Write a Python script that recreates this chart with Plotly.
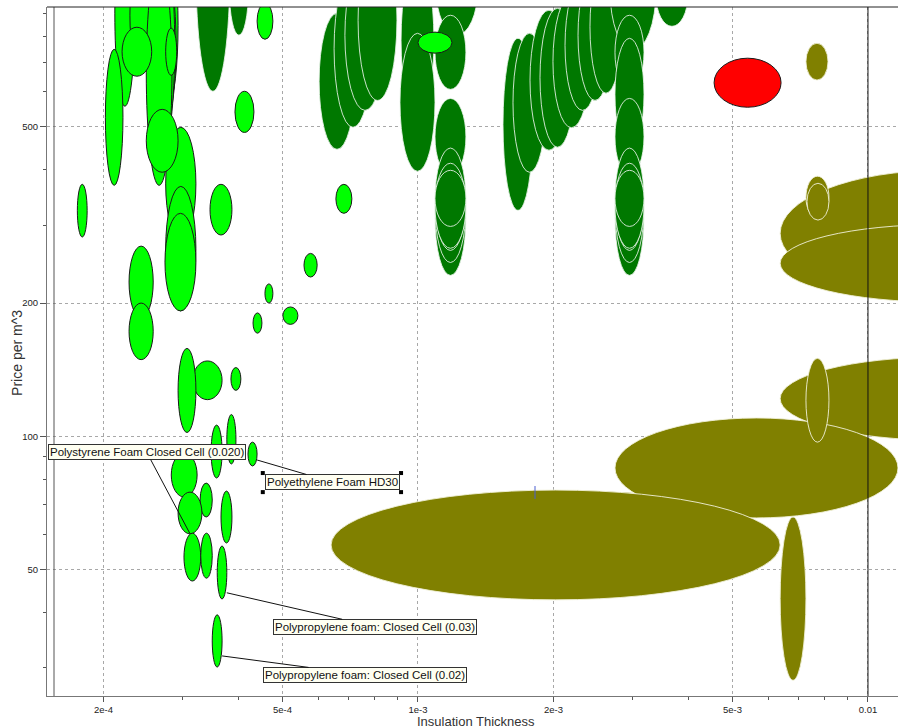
import math
import plotly.graph_objects as go

# ---- Material bubbles: thickness range (m) and price range (per m^3) ----
# Polymer foams (bright green)
foam_t_lo = [2.12e-4, 2.29e-4, 2.67e-4, 2.62e-4, 2.54e-4, 2.49e-4, 2.02e-4, 2.20e-4, 2.75e-4, 2.75e-4,
             2.49e-4, 2.75e-4, 2.74e-4, 4.39e-4, 3.92e-4, 1.75e-4, 3.45e-4, 2.28e-4, 2.28e-4, 4.57e-4,
             4.30e-4, 5.01e-4, 5.58e-4, 6.57e-4, 1.00e-3, 3.16e-4, 2.93e-4, 3.84e-4, 3.76e-4, 3.47e-4,
             4.19e-4, 2.83e-4, 3.28e-4, 2.93e-4, 3.65e-4, 3.02e-4, 3.29e-4, 3.58e-4, 3.49e-4]
foam_t_hi = [2.35e-4, 2.56e-4, 2.93e-4, 2.90e-4, 2.88e-4, 2.84e-4, 2.21e-4, 2.56e-4, 2.91e-4, 3.21e-4,
             2.93e-4, 3.21e-4, 3.21e-4, 4.76e-4, 4.32e-4, 1.84e-4, 3.86e-4, 2.58e-4, 2.58e-4, 4.76e-4,
             4.50e-4, 5.41e-4, 5.97e-4, 7.13e-4, 1.19e-3, 3.67e-4, 3.21e-4, 4.04e-4, 3.94e-4, 3.67e-4,
             4.39e-4, 3.23e-4, 3.49e-4, 3.31e-4, 3.86e-4, 3.29e-4, 3.49e-4, 3.76e-4, 3.67e-4]
foam_p_lo = [557, 672, 574, 518, 443, 369, 369, 651, 654, 277,
             395, 192, 192, 789, 486, 282, 285, 185, 149, 200,
             171, 179, 229, 319, 734, 121, 102, 127, 86.6, 80.5,
             85.7, 72.9, 65.7, 60.2, 57.4, 47.1, 47.8, 42.9, 30.1]
foam_p_hi = [1466, 1190, 1254, 1130, 1321, 1190, 749, 840, 836, 499,
             548, 367, 319, 952, 602, 371, 371, 269, 200, 221,
             190, 196, 259, 371, 819, 148, 158, 143, 112, 106,
             97.0, 91.7, 78.4, 74.8, 75.2, 60.4, 60.4, 56.5, 39.5]

# Dense foams / composites (dark green)
dense_t_lo = [3.21e-4, 3.81e-4, 6.03e-4, 6.51e-4, 6.88e-4, 7.36e-4, 9.17e-4, 9.12e-4,
              1.096e-3, 1.091e-3, 1.091e-3, 1.091e-3, 1.091e-3, 1.091e-3, 1.091e-3, 1.091e-3,
              1.545e-3, 1.626e-3, 1.774e-3, 1.867e-3, 1.995e-3, 2.122e-3, 2.268e-3, 2.411e-3,
              2.671e-3, 3.38e-3,
              2.740e-3, 2.740e-3, 2.740e-3, 2.740e-3, 2.740e-3, 2.740e-3, 2.740e-3, 2.740e-3]
dense_t_hi = [3.82e-4, 4.20e-4, 7.24e-4, 7.90e-4, 8.45e-4, 8.98e-4, 1.085e-3, 1.091e-3,
              1.359e-3, 1.278e-3, 1.278e-3, 1.278e-3, 1.278e-3, 1.278e-3, 1.278e-3, 1.278e-3,
              1.801e-3, 1.925e-3, 2.154e-3, 2.233e-3, 2.411e-3, 2.538e-3, 2.698e-3, 2.840e-3,
              3.38e-3, 3.98e-3,
              3.179e-3, 3.179e-3, 3.179e-3, 3.179e-3, 3.179e-3, 3.179e-3, 3.179e-3, 3.179e-3]
dense_p_lo = [602, 806, 445, 499, 545, 574, 518, 397,
              806, 608, 389, 231, 247, 263, 266, 298,
              324, 395, 443, 450, 498, 545, 574, 596,
              745, 844,
              608, 443, 389, 231, 247, 263, 266, 298]
dense_p_hi = [2121, 1287, 903, 1130, 1190, 1321, 1190, 814,
              1321, 894, 580, 421, 438, 448, 414, 399,
              793, 814, 918, 927, 992, 1072, 1130, 1190,
              1391, 1166,
              894, 793, 580, 421, 438, 448, 414, 399]

# Mineral wools / fibre boards (olive)
fibre_t_lo = [7.28e-3, 6.38e-3, 6.38e-3, 7.28e-3, 7.32e-3, 6.38e-3, 2.74e-3, 7.28e-3, 6.41e-4, 6.38e-3]
fibre_t_hi = [8.15e-3, 3.28e-2, 3.28e-2, 8.19e-3, 8.19e-3, 3.28e-2, 1.166e-2, 8.19e-3, 6.38e-3, 7.28e-3]
fibre_p_lo = [638, 207, 201, 311, 308, 98.0, 65.4, 97.0, 42.7, 28.1]
fibre_p_hi = [773, 399, 301, 387, 373, 151, 110, 150, 75.6, 65.7]

# Highlighted material (red)
red_t_lo = [4.55e-3]
red_t_hi = [6.41e-3]
red_p_lo = [554]
red_p_hi = [715]

# ---- Labelled materials ----
label_text = ["Polystyrene Foam Closed Cell (0.020)", "Polyethylene Foam HD30",
              "Polypropylene foam: Closed Cell (0.03)", "Polypropylene foam: Closed Cell (0.02)"]
label_t = [3.11e-4, 4.39e-4, 3.76e-4, 3.67e-4]
label_p = [60.4, 88.4, 44.3, 31.9]
label_dx = [-43, 75, 148, 143]
label_dy = [-81, 22, 34, 19]

# Axis ticks
x_ticks = [2e-4, 5e-4, 1e-3, 2e-3, 5e-3, 0.01]
x_tick_text = ["2e-4", "5e-4", "1e-3", "2e-3", "5e-3", "0.01"]
x_minor = [3e-4, 4e-4, 6e-4, 7e-4, 8e-4, 9e-4, 3e-3, 4e-3, 6e-3, 7e-3, 8e-3, 9e-3]
y_ticks = [50, 100, 200, 500]
y_minor = [30, 40, 60, 70, 80, 90, 300, 400, 600, 700, 800, 900]

fig = go.Figure()


def add_bubbles(t_lo, t_hi, p_lo, p_hi, fill, edge):
    for a, b, c, d in zip(t_lo, t_hi, p_lo, p_hi):
        fig.add_shape(type="circle", xref="x", yref="y", x0=a, x1=b, y0=c, y1=d,
                      fillcolor=fill, line=dict(color=edge, width=1), layer="between")


add_bubbles(dense_t_lo, dense_t_hi, dense_p_lo, dense_p_hi, "#007800", "rgba(235,245,235,0.85)")
add_bubbles(fibre_t_lo, fibre_t_hi, fibre_p_lo, fibre_p_hi, "#808000", "rgba(240,240,215,0.9)")
add_bubbles(foam_t_lo, foam_t_hi, foam_p_lo, foam_p_hi, "#00FF00", "#1a1a1a")
add_bubbles(red_t_lo, red_t_hi, red_p_lo, red_p_hi, "#FF0000", "#1a1a1a")

# small blue marker stroke
fig.add_shape(type="line", xref="x", yref="y", x0=1.82e-3, x1=1.82e-3, y0=72.2, y1=77.2,
              line=dict(color="#4a5fd0", width=1), layer="above")

# selection handles on the HD30 label box
fig.add_trace(go.Scatter(x=[4.52e-4, 9.17e-4, 4.52e-4, 9.17e-4], y=[82.6, 82.6, 74.8, 74.8],
                         mode="markers", marker=dict(symbol="square", size=4, color="black"),
                         hoverinfo="skip", showlegend=False))

# frame lines
fig.add_shape(type="line", xref="x", yref="paper", x0=0.01, x1=0.01, y0=0, y1=1,
              line=dict(color="#111111", width=1), layer="above")
fig.add_shape(type="line", xref="paper", yref="paper", x0=7 / 851, x1=7 / 851, y0=0, y1=1,
              line=dict(color="#555555", width=1), layer="above")
fig.add_shape(type="line", xref="paper", yref="paper", x0=0, x1=1, y0=1, y1=1,
              line=dict(color="#222222", width=1), layer="above")

for txt, t, p, dx, dy in zip(label_text, label_t, label_p, label_dx, label_dy):
    fig.add_annotation(x=math.log10(t), y=math.log10(p), xref="x", yref="y", text=txt,
                       showarrow=True, arrowhead=0, arrowwidth=1, arrowcolor="#111111",
                       ax=dx, ay=dy, standoff=0, startstandoff=0,
                       font=dict(family="Arial", size=11.5, color="#111111"),
                       bgcolor="#FFFFF2", bordercolor="#333333", borderwidth=1, borderpad=1)

fig.add_annotation(text="Price per m^3", xref="paper", yref="paper", x=(17 - 47) / 851, y=0.498,
                   xanchor="center", yanchor="middle",
                   textangle=-90, showarrow=False, font=dict(family="Arial", size=14, color="#333333"))
fig.add_annotation(text="Insulation Thickness", xref="paper", yref="paper", x=0.504, y=-(721 - 696) / 689,
                   xanchor="center", yanchor="middle",
                   showarrow=False, font=dict(family="Arial", size=13, color="#333333"))

axis_font = dict(family="Arial", size=9.5, color="#222222")
fig.update_layout(
    width=898, height=728,
    margin=dict(l=47, r=0, t=7, b=32),
    paper_bgcolor="white", plot_bgcolor="white",
    showlegend=False,
    xaxis=dict(type="log", range=[-3.8244, -1.9333], tickvals=x_ticks, ticktext=x_tick_text,
               ticks="outside", ticklen=5, tickcolor="#555555", tickfont=axis_font,
               showline=True, linecolor="#777777", linewidth=1, zeroline=False,
               showgrid=True, gridcolor="#a8a8a8", griddash="3px,3px", gridwidth=1,
               minor=dict(tickvals=x_minor, ticks="outside", ticklen=3, tickcolor="#555555",
                          showgrid=False)),
    yaxis=dict(type="log", range=[1.4132, 2.970], tickvals=y_ticks,
               ticktext=[str(v) for v in y_ticks],
               ticks="outside", ticklen=6, tickcolor="#555555", tickfont=axis_font,
               showline=True, linecolor="#777777", linewidth=1, zeroline=False,
               showgrid=True, gridcolor="#a8a8a8", griddash="3px,3px", gridwidth=1,
               minor=dict(tickvals=y_minor, ticks="outside", ticklen=3, tickcolor="#555555",
                          showgrid=False)),
)

fig.write_html("out.html")
